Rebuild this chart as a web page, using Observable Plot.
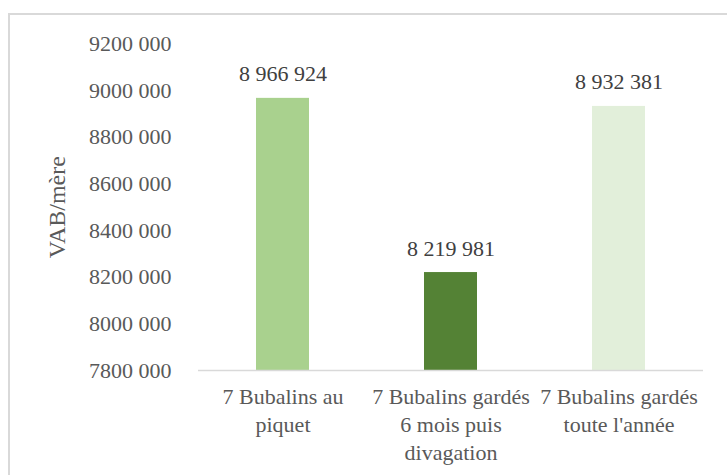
<!DOCTYPE html>
<html>
<head>
<meta charset="utf-8">
<script src="https://cdn.jsdelivr.net/npm/d3@7"></script>
<script src="https://cdn.jsdelivr.net/npm/@observablehq/plot@0.6"></script>
<style>
  html, body { margin: 0; padding: 0; background: #fff; }
  #wrap { position: relative; width: 727px; height: 475px; overflow: hidden; }
  #border { position: absolute; left: 8px; top: 13px; width: 800px; height: 600px;
            border-top: 2px solid #d9d9d9; border-left: 2px solid #d9d9d9; box-sizing: border-box; }
  #chart { position: absolute; left: 0; top: 0; }
  #chart svg, #chart svg text, #chart svg tspan { font-family: "Liberation Serif", serif !important; }
</style>
</head>
<body>
<div id="wrap"><div id="border"></div><div id="chart"></div></div>
<script>
const categories = [
  "7 Bubalins au piquet",
  "7 Bubalins gardés 6 mois puis divagation",
  "7 Bubalins gardés toute l'année"
];
const tickLabels = [
  "7 Bubalins au\npiquet",
  "7 Bubalins gardés\n6 mois puis\ndivagation",
  "7 Bubalins gardés\ntoute l'année"
];
const values = [8966924, 8219981, 8932381];
const colors = ["#A9D18E", "#548235", "#E2EFDA"];
const yTicks = [7800000, 8000000, 8200000, 8400000, 8600000, 8800000, 9000000, 9200000];
const yTitle = "VAB/mère";

const data = categories.map((c, i) => ({cat: c, value: values[i], color: colors[i]}));
const fmtTick = d => `${Math.floor(d / 1000)} ${String(d % 1000).padStart(3, "0")}`;
const fmtVal = d => d3.format(",")(d).replace(/,/g, " ");
const FONT = "Liberation Serif";

const chart = Plot.plot({
  width: 727,
  height: 475,
  marginLeft: 198,
  marginRight: 24,
  marginTop: 43.5,
  marginBottom: 105,
  style: {fontFamily: FONT, background: "transparent"},
  x: {domain: categories, paddingInner: 0.685, paddingOuter: 0.3425, label: null},
  y: {domain: [7800000, 9200000], label: null},
  marks: [
    Plot.barY(data, {x: "cat", y1: 7800000, y2: "value", fill: "color"}),
    Plot.ruleY([7800000], {stroke: "#d9d9d9", strokeWidth: 1.5}),
    Plot.text(data, {x: "cat", y: "value", text: d => fmtVal(d.value), dy: -24,
      fill: "#404040", fontSize: 22, fontFamily: FONT}),
    Plot.axisY({ticks: yTicks, tickFormat: fmtTick, tickSize: 0, tickPadding: 27,
      fontSize: 22, fill: "#595959", label: null}),
    Plot.axisX({tickFormat: d => tickLabels[categories.indexOf(d)], tickSize: 0, tickPadding: 14,
      fontSize: 22, lineHeight: 1.27, fill: "#595959", label: null}),
    Plot.text([yTitle], {frameAnchor: "left", textAnchor: "middle", rotate: -90, dx: -141, fontSize: 24,
      fill: "#595959", fontFamily: FONT})
  ]
});
document.getElementById("chart").appendChild(chart);
</script>
</body>
</html>
